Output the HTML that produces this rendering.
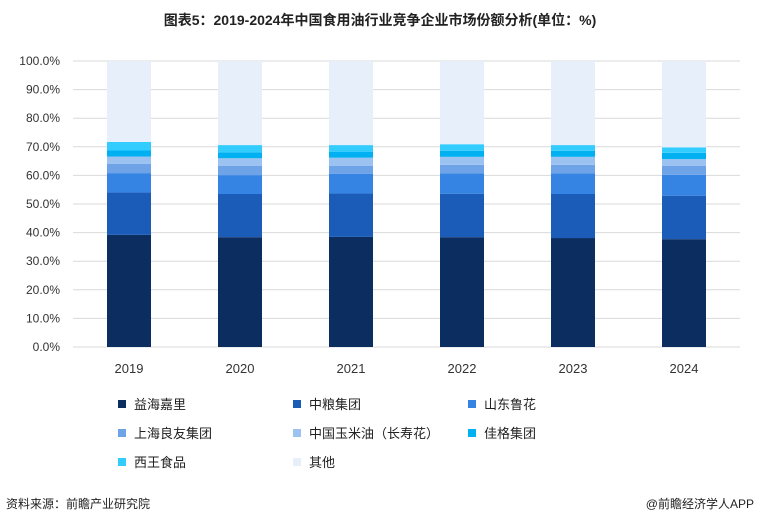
<!DOCTYPE html>
<html><head><meta charset="utf-8"><style>
body{margin:0;width:760px;height:524px;background:#fff;font-family:"Liberation Sans","Noto Sans CJK SC",sans-serif;overflow:hidden}
svg text{font-family:"Liberation Sans","Noto Sans CJK SC",sans-serif}
</style></head><body>
<svg id="c" width="760" height="524">
<text x="380" y="25" text-anchor="middle" font-size="14" font-weight="bold" fill="#222">图表5：2019-2024年中国食用油行业竞争企业市场份额分析(单位：%)</text>
<g id="grid"></g><g id="bars"></g><g id="axes"></g><g id="legend"></g>
<text x="6" y="508" font-size="12" fill="#222">资料来源：前瞻产业研究院</text>
<text x="754" y="508" text-anchor="end" font-size="12" fill="#222">@前瞻经济学人APP</text>
</svg>
<script>
const years=["2019","2020","2021","2022","2023","2024"];
const seriesNames=["益海嘉里","中粮集团","山东鲁花","上海良友集团","中国玉米油（长寿花）","佳格集团","西王食品","其他"];
const yihai=[39.2,38.4,38.5,38.4,38.1,37.7];
const zhongliang=[14.8,15.1,15.2,15.2,15.4,15.2];
const luhua=[6.8,6.6,6.9,7.1,7.2,7.3];
const liangyou=[3.2,3.2,2.8,3.0,3.0,3.2];
const yumiyou=[2.6,2.7,2.8,2.8,2.8,2.3];
const jiage=[2.1,2.1,2.1,2.1,2.1,2.2];
const xiwang=[3.0,2.5,2.3,2.3,2.0,1.9];
const yTicks=[0,10,20,30,40,50,60,70,80,90,100];
const colors=["#0c2d5f","#1a5cb8","#3584e4","#6fa3e8","#9cc2f2","#00b0f0","#33ccff","#e7effb"];
const series=[yihai,zhongliang,luhua,liangyou,yumiyou,jiage,xiwang];
const NS="http://www.w3.org/2000/svg";
const y0=347,y1=61,x0=73,xStep=111,bw=44;
const ys=v=>y0-(y0-y1)*v/100;
const xs=i=>129+i*xStep;
function mk(t,a,p){const e=document.createElementNS(NS,t);for(const k in a)e.setAttribute(k,a[k]);p.appendChild(e);return e;}
const g=document.getElementById('grid'),b=document.getElementById('bars'),ax=document.getElementById('axes'),lg=document.getElementById('legend');
yTicks.forEach(t=>{
 const l=mk('line',{x1:x0,x2:740,y1:ys(t),y2:ys(t),stroke:"#d9d9d9","stroke-width":1},g);
 
 
 const tx=mk('text',{x:60,y:ys(t)+4,"text-anchor":"end","font-size":12,fill:"#333"},ax);
 tx.textContent=t.toFixed(1)+"%";
 
 
});
years.forEach((yr,i)=>{
 let cum=0;
 series.forEach((s,k)=>{
  const r=mk('rect',{x:xs(i)-bw/2,y:ys(cum+s[i]),width:bw,height:ys(cum)-ys(cum+s[i]),fill:colors[k]},b);
  
  
  cum+=s[i];
 });
 const r=mk('rect',{x:xs(i)-bw/2,y:ys(100),width:bw,height:ys(cum)-ys(100),fill:colors[7]},b);
 
 
 const tx=mk('text',{x:xs(i),y:373,"text-anchor":"middle","font-size":13,fill:"#333"},ax);
 tx.textContent=yr;
 
 
});
seriesNames.forEach((n,k)=>{
 const cx=122+(k%3)*175, cy=404+Math.floor(k/3)*29;
 const r=mk('rect',{x:cx-4,y:cy-4,width:8,height:8,fill:colors[k]},lg);
 
 
 const t=mk('text',{x:cx+12,y:cy+5,"font-size":13,fill:"#222"},lg);
 t.textContent=n;
 
 
});
</script>
</body></html>
